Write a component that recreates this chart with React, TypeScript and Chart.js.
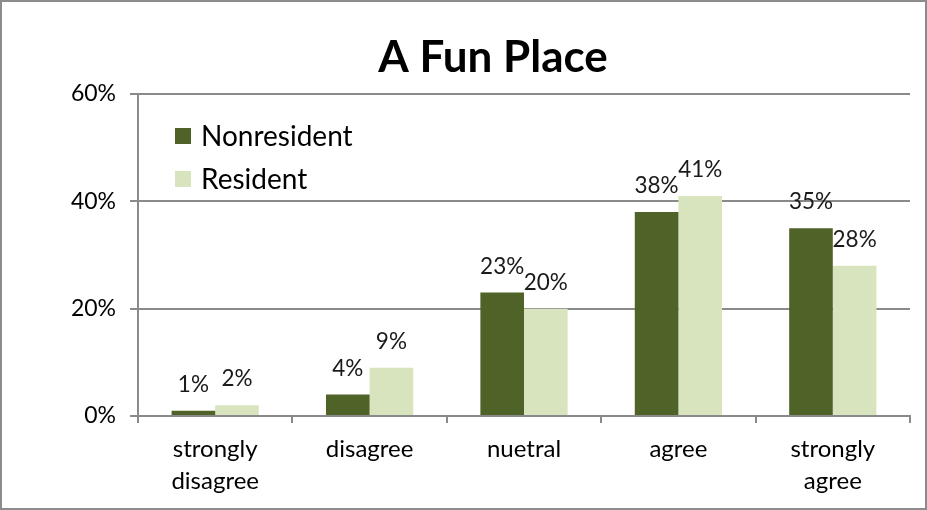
import React, { useEffect, useRef } from "react";
import { Chart, registerables } from "chart.js";
Chart.register(...registerables);

const titleText = "A Fun Place";
const categories: (string | string[])[] = [["strongly", "disagree"], "disagree", "nuetral", "agree", ["strongly", "agree"]];
const seriesNames = ["Nonresident", "Resident"];
const nonresident = [1, 4, 23, 38, 35];
const resident = [2, 9, 20, 41, 28];
const yMax = 60;
const yStep = 20;

const FONT = "Lato, 'Open Sans', sans-serif";
const DARK = "#4F6228";
const LIGHT = "#D7E4BD";
const GRID = "#8a8a8a";

const decorPlugin = {
  id: "decor",
  beforeDraw(chart: any) {
    const ctx = chart.ctx;
    ctx.save();
    ctx.fillStyle = "#ffffff";
    ctx.fillRect(0, 0, chart.width, chart.height);
    ctx.restore();
  },
  afterDraw(chart: any) {
    const ctx = chart.ctx;
    ctx.save();
    // border
    ctx.strokeStyle = "#8c8c8c";
    ctx.lineWidth = 2;
    ctx.strokeRect(1, 1, chart.width - 2, chart.height - 2);
    // title
    ctx.fillStyle = "#000";
    ctx.font = `bold 44px ${FONT}`;
    ctx.textAlign = "center";
    ctx.textBaseline = "alphabetic";
    ctx.fillText(titleText, 493, 72);
    // legend
    const colors = chart.data.datasets.map((d: any) => d.backgroundColor);
    const rows = [136, 179];
    ctx.font = `28px ${FONT}`;
    ctx.textAlign = "left";
    ctx.textBaseline = "middle";
    chart.data.datasets.forEach((d: any, i: number) => {
      ctx.fillStyle = colors[i];
      ctx.fillRect(175, rows[i] - 8, 16, 16);
      ctx.fillStyle = "#000";
      ctx.fillText(d.label, 201, rows[i] + 1);
    });
    ctx.restore();
  },
  afterDatasetsDraw(chart: any) {
    const ctx = chart.ctx;
    ctx.save();
    ctx.font = `22.5px ${FONT}`;
    ctx.fillStyle = "#1a1a1a";
    ctx.textAlign = "center";
    ctx.textBaseline = "alphabetic";
    chart.data.datasets.forEach((d: any, di: number) => {
      const meta = chart.getDatasetMeta(di);
      meta.data.forEach((bar: any, i: number) => {
        ctx.fillText(`${d.data[i]}%`, bar.x, bar.y - 19);
      });
    });
    ctx.restore();
  },
};

export default function App() {
  const ref = useRef<HTMLCanvasElement>(null);
  useEffect(() => {
    document.body.style.margin = "0";
    const chart = new Chart(ref.current!, {
      type: "bar",
      data: {
        labels: categories,
        datasets: [
          { label: seriesNames[0], data: nonresident, backgroundColor: DARK, barPercentage: 1, categoryPercentage: 0.565 },
          { label: seriesNames[1], data: resident, backgroundColor: LIGHT, barPercentage: 1, categoryPercentage: 0.565 },
        ],
      },
      options: {
        animation: false,
        responsive: false,
        maintainAspectRatio: false,
        layout: { padding: { top: 94, right: 17, bottom: 0, left: 0 } },
        plugins: { legend: { display: false }, title: { display: false }, tooltip: { enabled: false } },
        scales: {
          x: {
            afterFit(scale: any) { scale.height = 94; },
            grid: { display: true, drawOnChartArea: false, drawTicks: true, tickLength: 7, color: GRID, lineWidth: 2, offset: true },
            border: { display: true, color: GRID, width: 2 },
            ticks: { color: "#000", font: { family: FONT, size: 24, lineHeight: 1.35 }, padding: 10, maxRotation: 0, autoSkip: false },
          },
          y: {
            min: 0,
            max: yMax,
            afterFit(scale: any) { scale.width = 138; },
            grid: { color: GRID, lineWidth: 2, tickLength: 8 },
            border: { display: true, color: GRID, width: 2 },
            ticks: { stepSize: yStep, color: "#000", font: { family: FONT, size: 23 }, padding: 14, callback: (v: any) => `${v}%` },
          },
        },
      },
      plugins: [decorPlugin],
    });
    return () => chart.destroy();
  }, []);
  return (
    <div style={{ position: "fixed", left: 0, top: 0, width: 927, height: 510 }}>
      <canvas ref={ref} width={927} height={510} style={{ display: "block" }} />
    </div>
  );
}
